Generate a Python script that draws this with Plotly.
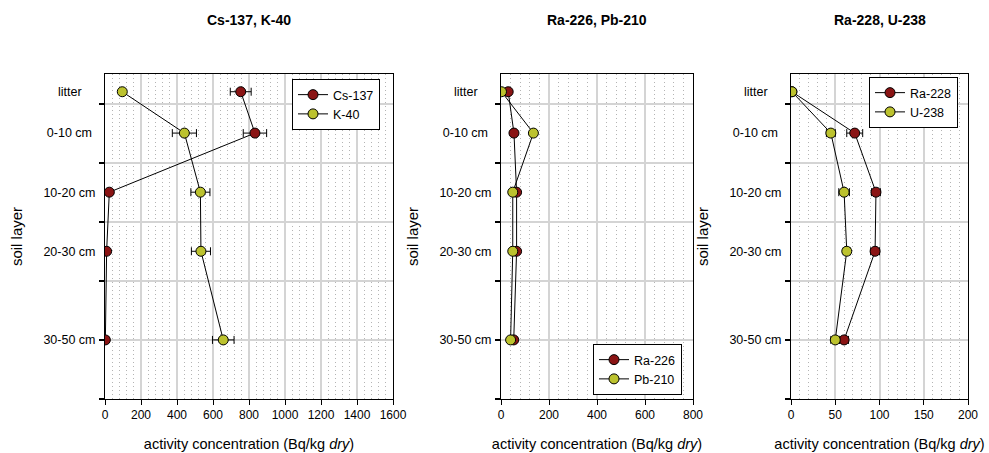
import plotly.graph_objects as go

# Soil profile layers and the depth (cm) at which each layer is plotted
layers = ["litter", "0-10 cm", "10-20 cm", "20-30 cm", "30-50 cm"]
layer_depth = [-2, 5, 15, 25, 40]
depth_ticks = [0, 10, 20, 30, 40, 50]

# Activity concentrations (Bq/kg dry) with uncertainties
cs137 = [754, 833, 24, 9, 2]
cs137_err = [58, 65, 3, 2, 1]
k40 = [96, 441, 530, 533, 657]
k40_err = [0, 67, 53, 53, 60]

ra226 = [30, 54, 65, 65, 53]
ra226_err = [0, 0, 0, 0, 0]
pb210 = [2, 135, 49, 49, 40]
pb210_err = [0, 0, 0, 0, 0]

ra228 = [1, 72, 96, 95, 60]
ra228_err = [0, 9, 5, 5, 5]
u238 = [1, 45, 60, 63, 50]
u238_err = [0, 5, 6, 4, 5]

RED = "#8a1414"
OLIVE = "#bcc22e"
FONT = "Liberation Sans, Arial, sans-serif"

# Layer labels are centred in their column: pad the short ones with
# non-breaking spaces so the right-aligned tick text lines up on its centre.
NBSP = "\u00a0"
label_pad = {"litter": 4, "0-10 cm": 1}
layer_labels = [lab + NBSP * label_pad.get(lab, 0) for lab in layers]

panels = [
    dict(title="Cs-137, K-40", xmax=1600, dtick=200, minor=40,
         series=[("Cs-137", cs137, cs137_err, RED), ("K-40", k40, k40_err, OLIVE)],
         dom=(105, 393), legend=dict(x=292, y=79)),
    dict(title="Ra-226, Pb-210", xmax=800, dtick=200, minor=40,
         series=[("Ra-226", ra226, ra226_err, RED), ("Pb-210", pb210, pb210_err, OLIVE)],
         dom=(501, 693), legend=dict(x=593, y=344)),
    dict(title="Ra-228, U-238", xmax=200, dtick=50, minor=10,
         series=[("Ra-228", ra228, ra228_err, RED), ("U-238", u238, u238_err, OLIVE)],
         dom=(791, 968), legend=dict(x=869, y=77)),
]

W, H = 989, 453
TOP, BOTTOM = 74, 399

fig = go.Figure()
layout = dict(
    width=W, height=H,
    margin=dict(l=0, r=0, t=0, b=0, autoexpand=False),
    paper_bgcolor="white", plot_bgcolor="white",
    font=dict(family=FONT, size=12.5, color="black"),
    annotations=[],
)

for i, p in enumerate(panels, start=1):
    sfx = "" if i == 1 else str(i)
    xa, ya = "x" + sfx, "y" + sfx
    leg = "legend" + sfx
    for name, vals, err, col in p["series"]:
        fig.add_trace(go.Scatter(
            x=vals, y=layer_depth, name=name, mode="lines+markers",
            xaxis=xa, yaxis=ya, legend=leg,
            line=dict(color="black", width=1),
            marker=dict(color=col, size=10, line=dict(color="black", width=1)),
            error_x=dict(type="data", array=err, visible=True,
                         color="black", thickness=1, width=4),
        ))

    layout["xaxis" + sfx] = dict(
        domain=[p["dom"][0] / W, p["dom"][1] / W], anchor=ya,
        range=[0, p["xmax"]], dtick=p["dtick"], tick0=0,
        showgrid=True, gridcolor="#d4d4d4", gridwidth=1.5,
        zeroline=False, showline=True, linecolor="black", linewidth=1, mirror=True,
        ticks="outside", ticklen=5, tickcolor="black", tickwidth=1,
        tickfont=dict(size=12),
        minor=dict(dtick=p["minor"], showgrid=True, gridcolor="#b4b4b4",
                   gridwidth=1, griddash="1px,3px", ticks=""),
        title=dict(text="activity concentration (Bq/kg <i>dry</i>)",
                   font=dict(size=14.5), standoff=17),
    )
    layout["yaxis" + sfx] = dict(
        domain=[(H - BOTTOM) / H, (H - TOP) / H], anchor=xa,
        range=[50, -5], tickmode="array", tickvals=layer_depth, ticktext=layer_labels,
        ticks="", showgrid=False, zeroline=False,
        showline=True, linecolor="black", linewidth=1, mirror=True,
        tickfont=dict(size=12.5), ticklabelstandoff=6,
        minor=dict(tickmode="array", tickvals=depth_ticks, ticks="outside",
                   ticklen=5, tickwidth=2, tickcolor="black",
                   showgrid=True, gridcolor="#d4d4d4", gridwidth=1.5),
        title=dict(text="soil layer", font=dict(size=15), standoff=17),
    )
    layout[leg] = dict(
        x=p["legend"]["x"] / W, y=(H - p["legend"]["y"]) / H,
        xanchor="left", yanchor="top",
        bgcolor="white", bordercolor="black", borderwidth=1,
        font=dict(size=12.5), tracegroupgap=0,
    )
    layout["annotations"].append(dict(
        text="<b>" + p["title"] + "</b>", showarrow=False,
        xref=xa + " domain", yref="paper", x=0.5, y=(H - 20) / H,
        xanchor="center", yanchor="middle", font=dict(size=14),
    ))

fig.update_layout(**layout)
fig.write_html("out.html")
